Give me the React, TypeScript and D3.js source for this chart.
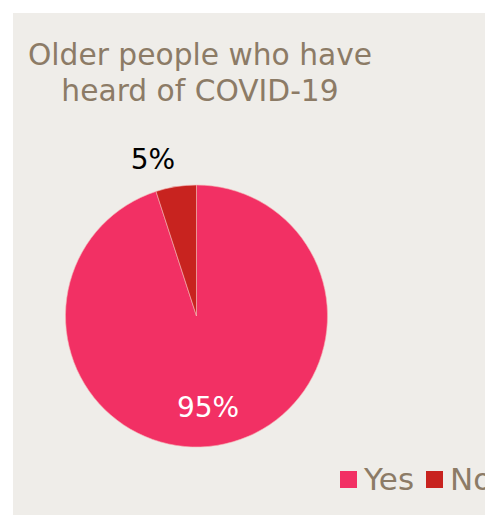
import React from "react";
import * as d3 from "d3";

const categories = ["Yes", "No"];
const values = [95, 5];
const labels = ["95%", "5%"];
const colors = ["#F23064", "#C8231F"];
const titleLines = ["Older people who have", "heard of COVID-19"];

export default function App() {
  const W = 485, H = 515;
  const cx = 196.5, cy = 316, r = 131;
  const pie = d3.pie<number>().sort(null).value((d) => d);
  const arcs = pie(values);
  const arcGen = d3.arc<d3.PieArcDatum<number>>().innerRadius(0).outerRadius(r);
  const font = "'DejaVu Sans', Verdana, sans-serif";
  const textColor = "#8C7B66";
  const legendX = [340, 426];
  return (
    <svg width={W} height={H} style={{ position: "absolute", left: 0, top: 0 }}>
      <rect x={13} y={13} width={W - 13} height={H - 13} fill="#EFEDE9" />
      {titleLines.map((t, i) => (
        <text key={i} x={200} y={65 + i * 36} textAnchor="middle" fontFamily={font} fontSize={29.7} fill={textColor}>
          {t}
        </text>
      ))}
      <g transform={`translate(${cx},${cy})`}>
        {arcs.map((a, i) => (
          <path key={i} d={arcGen(a) || ""} fill={colors[i]} stroke="#F5B5B5" strokeWidth={0.6} />
        ))}
        {arcs.map((a, i) => {
          const big = a.endAngle - a.startAngle > 1;
          return (
            <text key={"l" + i} x={big ? 11.5 : -43.5} y={big ? 101 : -147} textAnchor="middle" fontFamily={font} fontSize={28} fill={big ? "#FFFFFF" : "#000000"}>
              {labels[i]}
            </text>
          );
        })}
      </g>
      {categories.map((c, i) => (
        <g key={c}>
          <rect x={legendX[i]} y={471} width={17} height={17} fill={colors[i]} />
          <text x={legendX[i] + 24} y={490} fontFamily={font} fontSize={31} fill={textColor}>
            {c}
          </text>
        </g>
      ))}
    </svg>
  );
}
